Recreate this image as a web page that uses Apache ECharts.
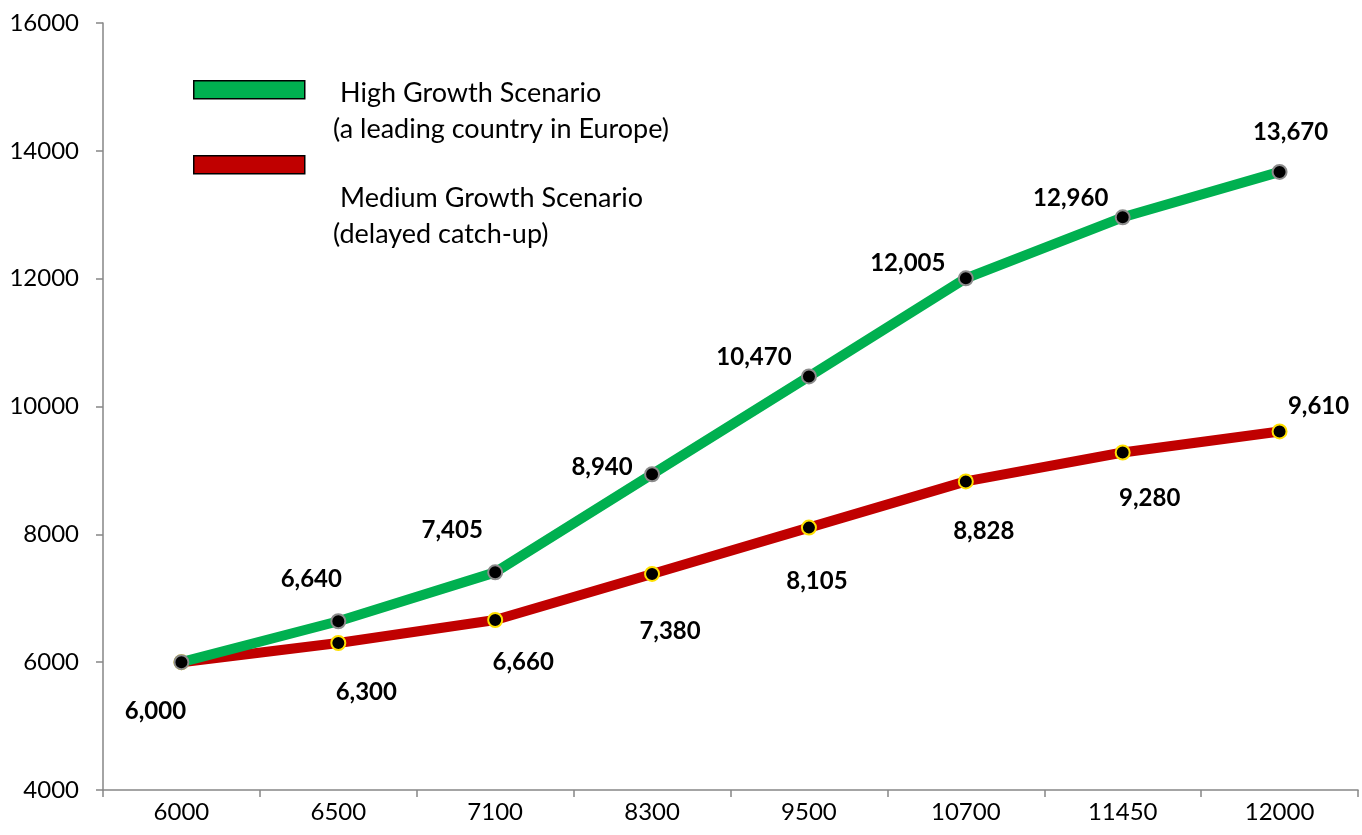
<!DOCTYPE html>
<html>
<head>
<meta charset="utf-8">
<script src="https://cdn.jsdelivr.net/npm/echarts@6/dist/echarts.min.js"></script>
<style>
  html, body { margin: 0; padding: 0; background: #fff; }
  #main { width: 1362px; height: 835px; }
</style>
</head>
<body>
<div id="main"></div>
<script>
// data
var categories = ['6000', '6500', '7100', '8300', '9500', '10700', '11450', '12000'];
var highGrowth = [6000, 6640, 7405, 8940, 10470, 12005, 12960, 13670];
var mediumGrowth = [6000, 6300, 6660, 7380, 8105, 8828, 9280, 9610];

// where each value label sits relative to its point (style only)
var highOffsets = [null, [-27, -42], [-43, -42], [-50, -7], [-55, -19], [-58, -15], [-52, -19], [11, -40]];
var mediumOffsets = [[-26, 49], [28, 49], [28, 42], [18, 57], [8, 54], [18, 50], [27, 46], [39, -25]];

var FONT = 'Lato';

function fmt(v) {
  return v.toLocaleString('en-US');
}

function buildData(values, offsets) {
  return values.map(function (v, i) {
    var o = offsets[i];
    return {
      value: v,
      label: o ? { show: true, offset: o } : { show: false }
    };
  });
}

var myChart = echarts.init(document.getElementById('main'));

var labelStyle = {
  show: true,
  position: 'inside',
  color: '#000',
  fontFamily: FONT,
  fontSize: 24,
  fontWeight: 'bold',
  formatter: function (p) { return fmt(p.value); }
};

option = {
  animation: false,
  backgroundColor: '#fff',
  grid: { left: 103, right: 4, top: 23, bottom: 45 },
  xAxis: {
    type: 'category',
    data: categories,
    boundaryGap: true,
    axisLine: { lineStyle: { color: '#868686', width: 1.5 } },
    axisTick: { show: true, length: 7, lineStyle: { color: '#868686', width: 1.5 } },
    axisLabel: { color: '#000', fontFamily: FONT, fontSize: 24, margin: 10 }
  },
  yAxis: {
    type: 'value',
    min: 4000,
    max: 16000,
    interval: 2000,
    splitLine: { show: false },
    axisLine: { show: true, lineStyle: { color: '#868686', width: 1.5 } },
    axisTick: { show: true, length: 7, lineStyle: { color: '#868686', width: 1.5 } },
    axisLabel: {
      color: '#000', fontFamily: FONT, fontSize: 24, margin: 24,
      formatter: function (v) { return String(v); }
    }
  },
  graphic: [
    { type: 'rect', left: 193, top: 80, shape: { width: 111, height: 18 },
      style: { fill: '#00B050', stroke: '#000', lineWidth: 1.5 } },
    { type: 'rect', left: 193, top: 155, shape: { width: 111, height: 18 },
      style: { fill: '#C00000', stroke: '#000', lineWidth: 1.5 } },
    { type: 'text', left: 340, top: 80,
      style: { text: 'High Growth Scenario', fill: '#000', font: '27px ' + FONT } },
    { type: 'text', left: 333, top: 116,
      style: { text: '(a leading country in Europe)', fill: '#000', font: '27px ' + FONT } },
    { type: 'text', left: 340, top: 185,
      style: { text: 'Medium Growth Scenario', fill: '#000', font: '27px ' + FONT } },
    { type: 'text', left: 333, top: 221,
      style: { text: '(delayed catch-up)', fill: '#000', font: '27px ' + FONT } }
  ],
  series: [
    {
      name: 'Medium Growth Scenario',
      type: 'line',
      data: buildData(mediumGrowth, mediumOffsets),
      lineStyle: { color: '#C00000', width: 10 },
      symbol: 'circle',
      symbolSize: 14,
      itemStyle: { color: '#000', borderColor: '#FFE000', borderWidth: 2 },
      label: labelStyle,
      z: 2
    },
    {
      name: 'High Growth Scenario',
      type: 'line',
      data: buildData(highGrowth, highOffsets),
      lineStyle: { color: '#00B050', width: 10 },
      symbol: 'circle',
      symbolSize: 14,
      itemStyle: { color: '#000', borderColor: '#8C8C8C', borderWidth: 2 },
      label: labelStyle,
      z: 3
    }
  ]
};

myChart.setOption(option);
</script>
</body>
</html>
